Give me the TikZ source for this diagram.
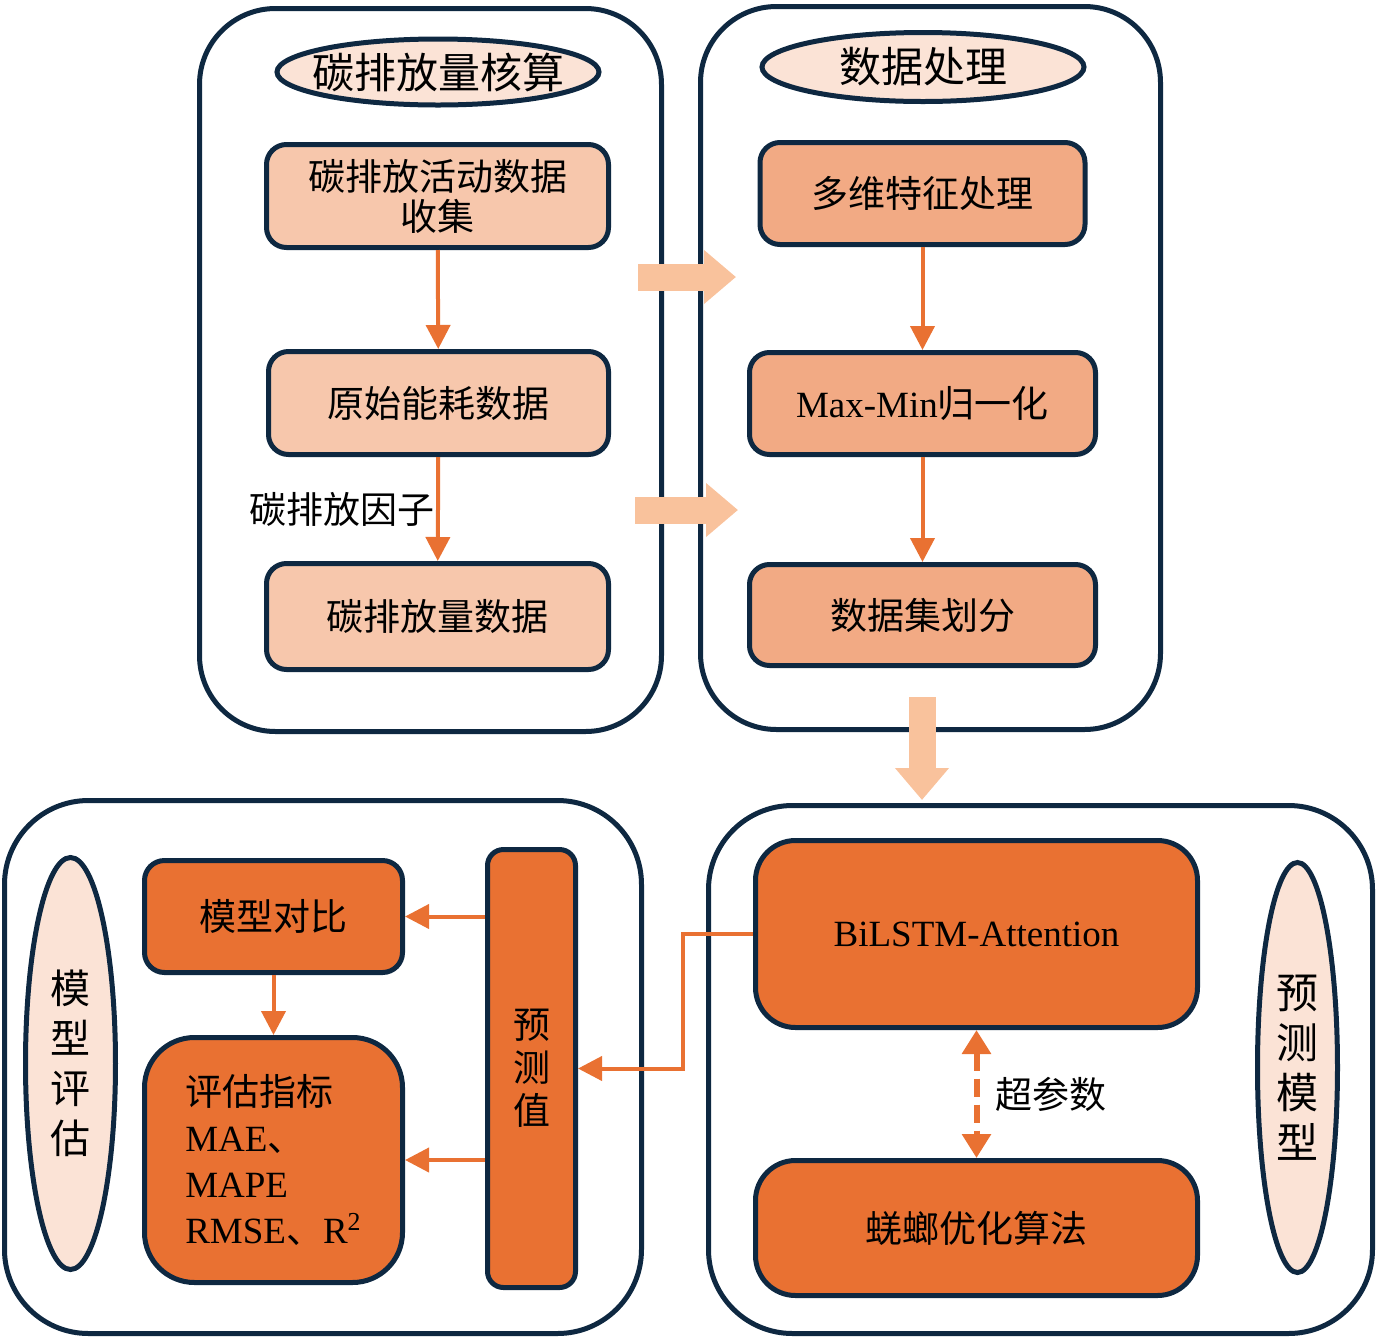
\documentclass[tikz,border=0pt]{standalone}
\usepackage{fontspec}
\setmainfont{Liberation Serif}
\newfontfamily\cjk{Noto Sans CJK SC}
\usetikzlibrary{arrows.meta,shapes.geometric}

\definecolor{navy}{HTML}{0E2841}
\definecolor{orng}{HTML}{E97132}
\definecolor{peachA}{HTML}{F7C7AC}
\definecolor{peachB}{HTML}{F2AA84}
\definecolor{blush}{HTML}{FBE3D6}
\definecolor{bigarr}{HTML}{F9C29C}

\tikzset{
  panel/.style={draw=navy, line width=2.5pt, rounded corners=38pt, inner sep=0pt},
  title/.style={ellipse, draw=navy, line width=2.5pt, fill=blush, inner sep=0pt,
    align=center, font=\cjk\fontsize{22}{25}\selectfont},
  box/.style={draw=navy, line width=2.5pt, rounded corners=10pt, inner sep=0pt,
    align=center, font=\cjk\fontsize{18.5}{20}\selectfont},
  boxA/.style={box, fill=peachA},
  boxB/.style={box, fill=peachB},
  boxC/.style={box, fill=orng},
  flow/.style={draw=orng, line width=2pt, -{Triangle[length=12pt,width=12pt]}},
  hyper/.style={draw=orng, line width=3pt, dash pattern=on 9pt off 4pt,
    {Triangle[length=12pt,width=14pt]}-{Triangle[length=12pt,width=14pt]}},
  bigarrow/.style={draw=bigarr, line width=13.5pt, -{Triangle[length=16pt,width=26pt]}},
  lbl/.style={inner sep=0pt, font=\cjk\fontsize{18.5}{20}\selectfont}
}

\begin{document}
\begin{tikzpicture}[x=0.5pt, y=-0.5pt]
  \useasboundingbox (0,0) rectangle (1378,1340);

  % four panels
  \node[panel, minimum width=231pt, minimum height=361.5pt] (carbon) at (430.5,370) {};
  \node[panel, minimum width=230pt, minimum height=361.5pt] (prep) at (930.5,368) {};
  \node[panel, rounded corners=42pt, minimum width=318.5pt, minimum height=266.5pt] (evalp) at (323,1067) {};
  \node[panel, rounded corners=42pt, minimum width=332pt, minimum height=264pt] (modelp) at (1040.5,1069.5) {};

  % carbon accounting
  \node[title, minimum width=161pt, minimum height=33pt,
    label={[font=\cjk\fontsize{21}{24}\selectfont, inner sep=0pt]center:碳排放量核算}] (t1) at (438,72) {};
  \node[boxA, minimum width=171pt, minimum height=51.5pt] (a1) at (437.5,196) {碳排放活动数据\\收集};
  \node[boxA, minimum width=170pt, minimum height=51.5pt] (a2) at (438.5,403) {原始能耗数据};
  \node[boxA, minimum width=171pt, minimum height=53pt] (a3) at (437.5,616.5) {碳排放量数据};
  \draw[flow] (a1) -- (a2);
  \draw[flow] (a2) -- (a3) node[lbl, midway, left=1pt] {碳排放因子};

  % data processing
  \node[title, minimum width=161pt, minimum height=34.5pt,
    label={[font=\cjk\fontsize{21}{24}\selectfont, inner sep=0pt]center:数据处理}] (t2) at (923,67) {};
  \node[boxB, minimum width=162.5pt, minimum height=51pt] (b1) at (922.5,193.5) {多维特征处理};
  \node[boxB, minimum width=173pt, minimum height=51pt] (b2) at (922.5,403.5) {{\rmfamily Max-Min}归一化};
  \node[boxB, minimum width=173pt, minimum height=50.5pt] (b3) at (922.5,615) {数据集划分};
  \draw[flow] (b1) -- (b2);
  \draw[flow] (b2) -- (b3);

  % block arrows between panels
  \coordinate (h1s) at (638,277);
  \coordinate (h1e) at (736,277);
  \coordinate (h2s) at (635,510);
  \coordinate (h2e) at (738,510);
  \coordinate (v1s) at (922,697);
  \coordinate (v1e) at (922,800);
  \draw[bigarrow] (h1s) -- (h1e);
  \draw[bigarrow] (h2s) -- (h2e);
  \draw[bigarrow] (v1s) -- (v1e);

  % evaluation
  \node[title, font=\cjk\fontsize{20}{25}\selectfont, minimum width=45pt, minimum height=206pt] (t3) at (70.5,1063.5) {模\\型\\评\\估};
  \node[boxC, minimum width=129pt, minimum height=56pt] (c1) at (273.5,916.5) {模型对比};
  \node[boxC, rounded corners=25pt, minimum width=129pt, minimum height=122.5pt,
    align=left, font=\cjk\fontsize{18.5}{23}\selectfont] (c2) at (273.5,1160)
    {评估指标\\{\rmfamily MAE}、\\{\rmfamily MAPE}\\{\rmfamily RMSE}、{\rmfamily R\textsuperscript{2}}};
  \node[boxC, rounded corners=8pt, minimum width=44pt, minimum height=219pt,
    font=\cjk\fontsize{18.5}{21.5}\selectfont] (pred) at (531.5,1068.5) {预\\测\\值};
  \draw[flow] (c1) -- (c2);
  \draw[flow] (pred.west |- c1) -- (c1.east);
  \draw[flow] (pred.west |- c2) -- (c2.east);

  % prediction model
  \node[boxC, rounded corners=20pt, minimum width=221pt, minimum height=93.5pt] (d1) at (976.5,934) {{\rmfamily BiLSTM-Attention}};
  \node[boxC, rounded corners=20pt, minimum width=221pt, minimum height=67.5pt] (d2) at (976.5,1228) {蜣螂优化算法};
  \node[title, font=\cjk\fontsize{21}{25}\selectfont, minimum width=40pt, minimum height=205pt] (t4) at (1297.5,1067.5) {预\\测\\模\\型};
  \draw[hyper] (d1.south) -- (d2.north) node[lbl, midway, right=8pt] {超参数};
  \draw[flow] (d1.west) -- ++(-70,0) |- (pred.east);
\end{tikzpicture}
\end{document}
